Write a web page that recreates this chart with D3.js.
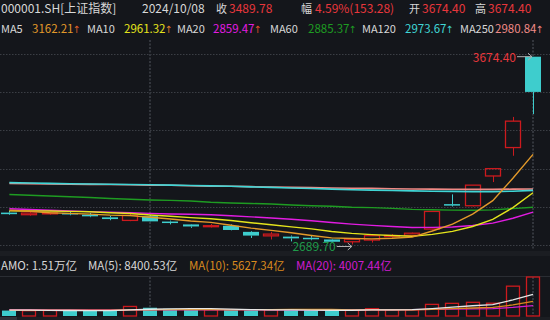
<!DOCTYPE html>
<html>
<head>
<meta charset="utf-8">
<script src="https://cdn.jsdelivr.net/npm/d3@7"></script>
<style>
  body { margin: 0; background: #14161b; }
  svg { display: block; font-family: "Noto Sans CJK SC", "Noto Sans", sans-serif; }
</style>
</head>
<body>
<div class="canva"></div>
<script>
// trading days shown (27 candles)
const dates = ["2024-08-22","2024-08-23","2024-08-26","2024-08-27","2024-08-28","2024-08-29","2024-08-30",
  "2024-09-02","2024-09-03","2024-09-04","2024-09-05","2024-09-06","2024-09-09","2024-09-10","2024-09-11",
  "2024-09-12","2024-09-13","2024-09-18","2024-09-19","2024-09-20","2024-09-23","2024-09-24","2024-09-25",
  "2024-09-26","2024-09-27","2024-09-30","2024-10-08"];
const prevClose = 2856.58; // close of 2024-08-21, before the first candle
const opens  = [2857,2846,2853,2855,2846,2832,2816,2838,2810,2795,2783,2788,2756,2735,2731,2725,2716,2704,2713,2734,2738,2770.75,2901.42,2893,3049,3198,3674.40];
const highs  = [2866,2862,2861,2860,2855,2840,2858,2844,2815,2797,2797,2795,2760,2756,2737,2736,2719,2722,2744,2744,2752,2863.13,2952.45,3000.95,3088,3358.59,3674.40];
const lows   = [2845,2841,2846,2843,2833,2817,2812,2810,2795,2777,2779,2764,2724,2716,2706,2712,2698,2689.70,2700,2727,2730,2768,2889,2889,3017,3155,3374];
const closes = [2848.77,2854.37,2855.52,2848.45,2837.43,2823.11,2842.21,2811.04,2802.98,2784.28,2788.31,2765.81,2736.49,2744.19,2721.80,2717.12,2704.09,2717.28,2736.02,2736.81,2748.92,2863.13,2896.31,3000.95,3087.53,3336.50,3489.78];

// price moving averages
const ma5   = [2869.0,2863.8,2856.4,2852.7,2848.9,2843.8,2841.3,2832.4,2823.4,2812.7,2805.8,2790.5,2775.6,2763.8,2751.3,2737.1,2724.7,2720.9,2719.3,2722.3,2728.6,2760.4,2796.2,2849.2,2919.4,3036.9,3162.21];
const ma10  = [2866.2,2865.3,2865.1,2863.2,2861.8,2856.4,2852.6,2844.4,2838.1,2830.8,2824.8,2815.9,2804.0,2793.6,2782.0,2771.5,2757.6,2748.3,2741.6,2736.8,2732.9,2742.6,2758.6,2784.3,2820.9,2882.8,2961.32];
const ma20  = [2877,2873,2869,2866,2862,2859,2856,2853,2850,2848,2845.5,2840.6,2834.6,2828.4,2821.9,2814.0,2805.1,2796.4,2789.9,2783.8,2778.9,2779.3,2781.3,2789.0,2801.5,2827.2,2859.47];
const ma60  = [2952,2948,2944,2940,2936,2931,2927,2923,2921,2918,2911,2907,2905,2902,2897,2893,2890,2885,2883,2879,2874,2872,2870,2869,2871,2878,2885.37];
const ma120 = [3014,3012,3010,3008,3007,3006,3004,3003,3001,2999,2997,2995,2992,2989,2986,2983,2980,2977,2975,2973,2971,2969,2968,2967,2967,2969,2973.67];
const ma250 = [3010,3009,3007,3006,3005,3004,3003,3001,3000,2998,2996,2995,2993,2991,2989,2988,2986,2985,2984,2982,2981,2980,2979,2979,2979,2980,2980.84];

// turnover (亿) and its averages
const amounts = [2100,2050,2150,2000,2050,2200,3700,3200,2800,2450,2400,2450,2200,2450,2200,2150,2150,2200,2850,2450,2400,4500,4900,5300,4950,11550,15100];
const amoMa5  = [2300,2250,2200,2130,2110,2090,2400,2620,2780,2840,2870,2660,2460,2400,2340,2290,2230,2230,2370,2400,2450,2880,3420,3960,4420,6240,8400.53];
const amoMa10 = [2300,2300,2290,2280,2270,2230,2350,2420,2470,2470,2480,2370,2430,2490,2530,2540,2520,2410,2360,2360,2370,2590,2840,3100,3370,4280,5627.34];
const amoMa20 = [2450,2430,2410,2400,2390,2380,2400,2410,2420,2420,2420,2400,2390,2390,2400,2420,2480,2360,2370,2410,2430,2540,2660,2740,2870,3330,4007.44];

// header texts
const titleText = "000001.SH[上证指数]";
const dateText = "2024/10/08";
const quoteLabels = ["收", "幅", "开", "高"];
const quoteValues = ["3489.78", "4.59%(153.28)", "3674.40", "3674.40"];
const maLabels = ["MA5", "MA10", "MA20", "MA60", "MA120", "MA250"];
const maValues = ["3162.21", "2961.32", "2859.47", "2885.37", "2973.67", "2980.84"];
const amoLabels = ["AMO: 1.51万亿", "MA(5): 8400.53亿", "MA(10): 5627.34亿", "MA(20): 4007.44亿"];
const monthStarts = ["2024-09-02", "2024-10-08"];

const W = 550, H = 320;
const bg = "#14161b";
const red = "#cc1a1e", cyan = "#3ecdcd", textRed = "#e8373c";
const maColors = ["#e39a2a", "#e4e41c", "#e21ce2", "#1e9c22", "#40d6d6", "#f08a86"];
const arrowColors = ["#e2602a", "#e2802a", "#e2502a", "#1e9c22", "#40d6d6", "#f08a86"];

const svg = d3.select(".canva").append("svg").attr("width", W).attr("height", H);
svg.append("rect").attr("width", W).attr("height", H).attr("fill", bg);

const x = d3.scaleBand().domain(dates).range([-0.7, 543.1]).paddingInner(0.2).paddingOuter(0.1);
const bw = x.bandwidth();
const cx = d => x(d) + bw / 2;

const y = d3.scaleLinear().domain([2689.70, 3674.40]).range([244.5, 56.7]);
const yv = d3.scaleLinear().domain([0, d3.max(amounts)]).range([316, 277]);

// grid
const grid = svg.append("g");
d3.range(6).forEach(k => {
  const gy = Math.round(245 - k * 38.2) + 0.5;
  grid.append("line").attr("x1", 0).attr("x2", W).attr("y1", gy).attr("y2", gy)
    .attr("stroke", "#3b3e45").attr("stroke-dasharray", "1.5,1.5");
});
monthStarts.forEach(d => {
  [[40, 250], [277, 316]].forEach(([a, b]) => {
    grid.append("line").attr("x1", Math.round(cx(d))).attr("x2", Math.round(cx(d)))
      .attr("y1", a).attr("y2", b).attr("stroke", "#33363d").attr("stroke-width", 2)
      .attr("stroke-dasharray", "2,1.5");
  });
});

// panel separators
svg.append("rect").attr("x", 0).attr("y", 251).attr("width", W).attr("height", 5).attr("fill", "#1b1d22");
svg.append("line").attr("x1", 0).attr("x2", W).attr("y1", 276.5).attr("y2", 276.5).attr("stroke", "#2a2d33");
svg.append("rect").attr("x", 0).attr("y", 317).attr("width", W).attr("height", 3).attr("fill", "#1b1d22");
svg.append("rect").attr("x", 0).attr("y", 317).attr("width", 17).attr("height", 3).attr("fill", "#2f3238");

// candles
const candles = dates.map((d, i) => ({
  d, o: opens[i], h: highs[i], l: lows[i], c: closes[i], up: closes[i] >= opens[i],
  rise: closes[i] >= (i === 0 ? prevClose : closes[i - 1])
}));
const cg = svg.append("g");
candles.forEach(k => {
  const xm = Math.round(cx(k.d)) + 0.5;
  const top = y(Math.max(k.o, k.c)), bot = y(Math.min(k.o, k.c));
  const col = k.up ? red : cyan;
  cg.append("line").attr("x1", xm).attr("x2", xm).attr("y1", y(k.h)).attr("y2", top).attr("stroke", col);
  cg.append("line").attr("x1", xm).attr("x2", xm).attr("y1", bot).attr("y2", y(k.l)).attr("stroke", col);
  const bx = Math.round(x(k.d));
  if (k.up) {
    cg.append("rect").attr("x", bx + 0.5).attr("y", top).attr("width", Math.round(bw) - 1)
      .attr("height", Math.max(bot - top, 1)).attr("fill", "none").attr("stroke", col).attr("stroke-width", 1.3);
  } else {
    cg.append("rect").attr("x", bx).attr("y", top).attr("width", Math.round(bw))
      .attr("height", Math.max(bot - top, 1.5)).attr("fill", col);
  }
});

// MA lines
const maSeries = [ma5, ma10, ma20, ma60, ma120, ma250];
const line = d3.line().x((v, i) => cx(dates[i])).y(v => y(v));
[5, 4, 3, 2, 1, 0].forEach(j => {
  svg.append("path").datum(maSeries[j]).attr("d", line).attr("fill", "none")
    .attr("stroke", maColors[j]).attr("stroke-width", j >= 4 ? 1.6 : 1.4);
});

// high / low markers
const iHigh = d3.maxIndex(highs), iLow = d3.minIndex(lows);
const hx = cx(dates[iHigh]), hy = y(highs[iHigh]);
svg.append("text").attr("x", hx - 17).attr("y", hy + 5.5).attr("text-anchor", "end")
  .attr("fill", textRed).attr("font-size", 12).text(highs[iHigh].toFixed(2));
svg.append("path").attr("d", `M${hx - 16},${hy}H${hx - 1}M${hx - 5},${hy - 3.5}L${hx - 1},${hy}L${hx - 5},${hy + 3.5}`)
  .attr("fill", "none").attr("stroke", "#b0b0b0").attr("stroke-width", 1);
const lx = cx(dates[iLow]), ly = y(lows[iLow]) + 2;
svg.append("text").attr("x", lx - 16).attr("y", ly + 4.5).attr("text-anchor", "end")
  .attr("fill", "#1f9a4a").attr("font-size", 12).text(lows[iLow].toFixed(2));
svg.append("path").attr("d", `M${lx - 15},${ly}H${lx}M${lx - 4},${ly - 3.5}L${lx},${ly}L${lx - 4},${ly + 3.5}`)
  .attr("fill", "none").attr("stroke", "#b0b0b0").attr("stroke-width", 1);

// volume bars, coloured by change from the previous close
const vg = svg.append("g");
candles.forEach((k, i) => {
  const bx = Math.round(x(k.d)) + 1, vw = Math.round(bw) - 2;
  const top = yv(amounts[i]);
  if (k.rise) {
    vg.append("rect").attr("x", bx + 0.5).attr("y", top).attr("width", vw - 1).attr("height", 316 - top)
      .attr("fill", "none").attr("stroke", red).attr("stroke-width", 1.3);
  } else {
    vg.append("rect").attr("x", bx).attr("y", top).attr("width", vw).attr("height", 316 - top).attr("fill", cyan);
  }
});
const vline = d3.line().x((v, i) => cx(dates[i])).y(v => yv(v));
[[amoMa20, "#d01cd0"], [amoMa10, "#d98a1e"], [amoMa5, "#e6e6e6"]].forEach(([s, c]) => {
  svg.append("path").datum(s).attr("d", vline).attr("fill", "none").attr("stroke", c).attr("stroke-width", 1.3);
});

// header row 1
const h1 = svg.append("g");
h1.append("text").attr("x", 1).attr("y", 13).attr("font-size", 12).attr("fill", "#d8d8d8").text(titleText);
h1.append("text").attr("x", 142).attr("y", 13).attr("font-size", 12).attr("fill", "#d8d8d8").text(dateText);
const qLabelX = [216, 301, 409, 475], qValueX = [229, 315, 422, 488];
quoteLabels.forEach((t, i) => {
  h1.append("text").attr("x", qLabelX[i]).attr("y", 13).attr("font-size", 11).attr("fill", "#d8d8d8").text(t);
  h1.append("text").attr("x", qValueX[i]).attr("y", 13).attr("font-size", 12).attr("fill", textRed).text(quoteValues[i]);
});

// header row 2
const h2 = svg.append("g");
const maLabelX = [1, 87, 177, 270, 362, 460], maValueX = [32, 124, 213, 308, 405, 495];
maLabels.forEach((t, i) => {
  h2.append("text").attr("x", maLabelX[i]).attr("y", 33).attr("font-size", 11).attr("fill", "#d8d8d8").text(t);
  const tv = h2.append("text").attr("x", maValueX[i]).attr("y", 33).attr("font-size", 11.5).attr("fill", maColors[i]);
  tv.append("tspan").text(maValues[i]);
  tv.append("tspan").attr("font-size", 10).attr("font-family", "DejaVu Sans Condensed")
    .attr("dx", -0.5).attr("fill", arrowColors[i]).text("↑");
});

// volume header
const amoColors = ["#d8d8d8", "#d8d8d8", "#d98a1e", "#d01cd0"];
const amoX = [1, 88, 189, 296];
amoLabels.forEach((t, i) => {
  svg.append("text").attr("x", amoX[i]).attr("y", 270).attr("font-size", 11.5)
    .attr("fill", amoColors[i]).text(t);
});
</script>
</body>
</html>
